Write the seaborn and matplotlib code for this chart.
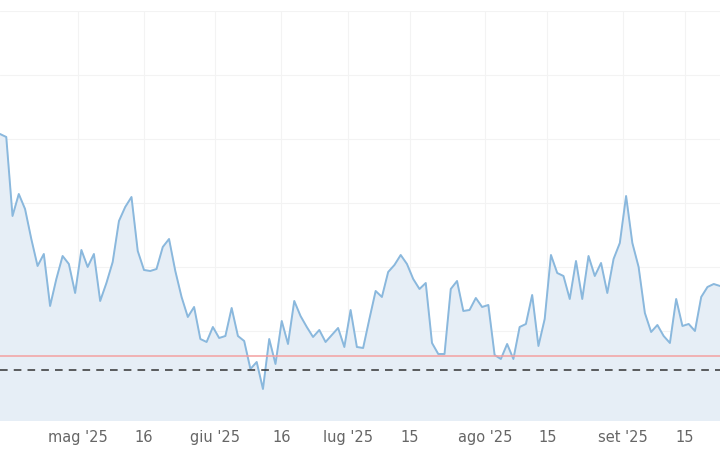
import pandas as pd
import numpy as np
import matplotlib
matplotlib.use('Agg')
import matplotlib.pyplot as plt
import matplotlib.dates as mdates
import seaborn as sns

# values in chart units (0 = bottom of plot area)
values = [287, 284, 205, 227, 212, 182, 155, 167, 115, 142, 165, 157, 128, 171, 154, 167,
          120, 138, 159, 200, 214, 224, 170, 151, 150, 152, 174, 182, 150, 124, 104, 114,
          82, 79, 94, 83, 85, 113, 85, 80, 52, 59, 32, 82, 57, 100, 77, 120, 105, 94,
          84, 91, 79, 86, 93, 74, 111, 74, 73, 102, 130, 124, 149, 156, 166, 157, 142, 132,
          138, 78, 67, 67, 132, 140, 110, 111, 123, 114, 116, 66, 62, 77, 62, 94, 97, 126,
          75, 102, 166, 148, 145, 122, 160, 122, 165, 145, 158, 128, 162, 178, 225, 178,
          154, 108, 89, 96, 85, 78, 122, 95, 97, 90, 124, 134, 137, 135]
dates = pd.date_range('2025-04-13 12:00', '2025-09-23', periods=len(values))
red_level = 65
dashed_level = 51
tick_dates = ['2025-05-01', '2025-05-16', '2025-06-01', '2025-06-16', '2025-07-01',
              '2025-07-15', '2025-08-01', '2025-08-15', '2025-09-01', '2025-09-15']
tick_labels = ["mag '25", '16', "giu '25", '16', "lug '25", '15', "ago '25", '15', "set '25", '15']

df = pd.DataFrame({'date': dates, 'value': values})

sns.set_style('white')
plt.rcParams['font.family'] = ['DejaVu Sans']
fig = plt.figure(figsize=(7.2, 4.6), dpi=100)
ax = fig.add_axes([0, 38 / 460, 1, 410 / 460])

ax.fill_between(df['date'], df['value'], 0, color='#e6eef6', zorder=1)
sns.lineplot(data=df, x='date', y='value', ax=ax, color='#8ab8dd', linewidth=1.4, zorder=3)
ax.axhline(red_level, color='#f4a0a0', linewidth=1.1, zorder=4)
ax.axhline(dashed_level, color='#333333', linewidth=1.1, linestyle=(0, (5, 4)), zorder=4)

ax.set_xlim(pd.Timestamp('2025-04-13 12:00'), pd.Timestamp('2025-09-23'))
ax.set_ylim(0, 410)
ax.set_yticks([26, 90, 154, 218, 282, 346, 410])
ax.set_yticklabels([])
ax.set_xticks(pd.to_datetime(tick_dates))
ax.set_xticklabels(tick_labels, color='#666666', fontsize=10.5)
ax.tick_params(axis='x', length=0, pad=6)
ax.tick_params(axis='y', length=0)
ax.grid(True, color='#f3f3f3', linewidth=0.8, zorder=0)
ax.set_axisbelow(True)
ax.set_xlabel('')
ax.set_ylabel('')
for s in ax.spines.values():
    s.set_visible(False)

fig.savefig('out.png', dpi=100)
